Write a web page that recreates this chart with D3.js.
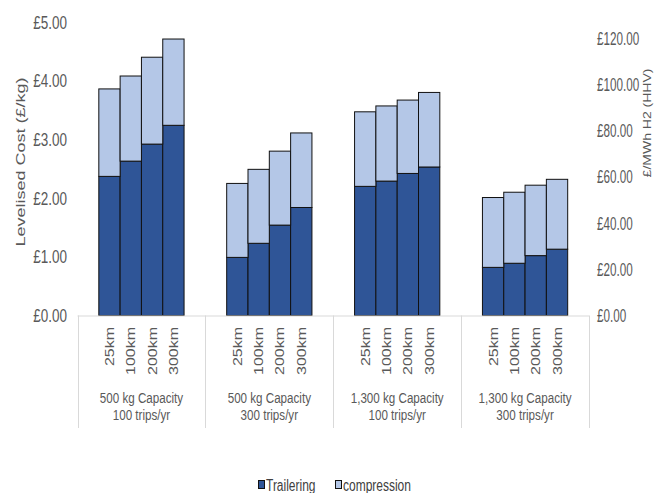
<!DOCTYPE html>
<html lang="en">
<head>
<meta charset="UTF-8">
<title>Levelised cost - trailering and compression</title>
<script src="https://d3js.org/d3.v7.min.js"></script>
<style>
    body { margin: 0; background: #fff; }
    svg { display: block; }
    text { font-family: "Liberation Sans", Arial, sans-serif; fill: #595959; }
    .tick-label { font-size: 18px; }
    .grp-label { font-size: 15.5px; }
    .dist-label { font-size: 16px; }
    .legend { font-size: 16px; fill: #404040; }
</style>
</head>
<body>
<svg id="chart" width="661" height="493"></svg>
<script>
// chart values (£/kg)
let groups = ["500 kg Capacity|100 trips/yr", "500 kg Capacity|300 trips/yr",
              "1,300 kg Capacity|100 trips/yr", "1,300 kg Capacity|300 trips/yr"];
let distances = ["25km", "100km", "200km", "300km"];
let trailering = [
    [2.37, 2.63, 2.92, 3.24],
    [0.99, 1.23, 1.54, 1.84],
    [2.20, 2.29, 2.42, 2.53],
    [0.82, 0.89, 1.02, 1.13]
];
let compression = [
    [1.49, 1.45, 1.48, 1.47],
    [1.26, 1.26, 1.26, 1.27],
    [1.27, 1.28, 1.25, 1.27],
    [1.19, 1.21, 1.20, 1.19]
];
let leftTicks = [0, 1, 2, 3, 4, 5];
let rightTicks = [0, 20, 40, 60, 80, 100, 120];
let seriesNames = ["Trailering", "compression"];
let colors = ["#2F5597", "#B4C7E7"];

let svg = d3.select("#chart");
let x0 = 77.5, x1 = 589, yBase = 315.5;
let sq = 0.75; // the picture is squeezed sideways, so glyphs are too

let yLeft = d3.scaleLinear().domain([0, 5]).range([yBase, 22]);
let yRight = d3.scaleLinear().domain([0, 120]).range([yBase, 38]);
let xGroup = d3.scaleBand().domain(d3.range(groups.length)).range([x0, x1]).padding(0);
let xBar = d3.scaleBand().domain(distances).range([0, xGroup.bandwidth()])
    .paddingInner(0).paddingOuter(1);

function flat(x, y, k) { return "translate(" + x + "," + y + ") scale(" + (k || sq) + ",1)"; }
function upright(x, y) { return "translate(" + x + "," + y + ") rotate(-90) scale(1," + sq + ")"; }

// flatten into rows for the stack
let rows = [];
groups.forEach(function (g, gi) {
    distances.forEach(function (d, di) {
        rows.push({g: gi, d: d, Trailering: trailering[gi][di], compression: compression[gi][di]});
    });
});
let stacked = d3.stack().keys(seriesNames)(rows);

let bars = svg.append("g");
stacked.forEach(function (layer, li) {
    bars.append("g")
        .selectAll("rect")
        .data(layer)
        .enter()
        .append("rect")
        .attr("x", function (d) { return xGroup(d.data.g) + xBar(d.data.d); })
        .attr("width", xBar.bandwidth())
        .attr("y", function (d) { return yLeft(d[1]); })
        .attr("height", function (d) { return yLeft(d[0]) - yLeft(d[1]); })
        .attr("fill", colors[li])
        .attr("stroke", "#111")
        .attr("stroke-width", 1);
});

// category box
let box = svg.append("g").attr("stroke", "#d9d9d9").attr("stroke-width", 1);
box.append("line").attr("x1", x0).attr("x2", x1).attr("y1", yBase + 0.5).attr("y2", yBase + 0.5);
d3.range(groups.length + 1).forEach(function (i) {
    let xx = Math.round(x0 + i * xGroup.step()) + 0.5;
    box.append("line").attr("x1", xx).attr("x2", xx).attr("y1", yBase).attr("y2", 428);
});

// distance labels (rotated)
rows.forEach(function (r) {
    let cx = xGroup(r.g) + xBar(r.d) + xBar.bandwidth() / 2;
    svg.append("text")
        .attr("class", "dist-label")
        .attr("transform", upright(cx + 4.5, 327))
        .attr("text-anchor", "end")
        .text(r.d);
});

// group labels
groups.forEach(function (g, gi) {
    let cx = xGroup(gi) + xGroup.bandwidth() / 2;
    g.split("|").forEach(function (p, pi) {
        svg.append("text")
            .attr("class", "grp-label")
            .attr("transform", flat(cx, 403 + pi * 16.5))
            .attr("text-anchor", "middle")
            .text(p);
    });
});

// left axis
svg.append("g").selectAll("text")
    .data(leftTicks).enter().append("text")
    .attr("class", "tick-label")
    .attr("transform", function (d) { return flat(67, yLeft(d) + 6.5); })
    .attr("text-anchor", "end")
    .text(function (d) { return "£" + d3.format(".2f")(d); });

// right axis
svg.append("g").selectAll("text")
    .data(rightTicks).enter().append("text")
    .attr("class", "tick-label")
    .attr("transform", function (d) { return flat(597, yRight(d) + 6.5, 0.65); })
    .attr("text-anchor", "start")
    .text(function (d) { return "£" + d3.format(".2f")(d); });

// axis titles
svg.append("text")
    .attr("font-size", 18)
    .attr("transform", upright(25, 162))
    .attr("text-anchor", "middle")
    .text("Levelised Cost (£/kg)");

svg.append("text")
    .attr("font-size", 14)
    .attr("transform", upright(651, 123))
    .attr("text-anchor", "middle")
    .text("£/MWh H2 (HHV)");

// legend
let legendX = [258, 335];
seriesNames.forEach(function (s, i) {
    let lg = svg.append("g").attr("transform", "translate(" + legendX[i] + ",480)");
    lg.append("rect").attr("x", 0.5).attr("y", 0.5).attr("width", 6).attr("height", 8)
        .attr("fill", colors[i]).attr("stroke", "#111").attr("stroke-width", 1);
    lg.append("text").attr("class", "legend").attr("transform", flat(8, 11)).text(s);
});
</script>
</body>
</html>
